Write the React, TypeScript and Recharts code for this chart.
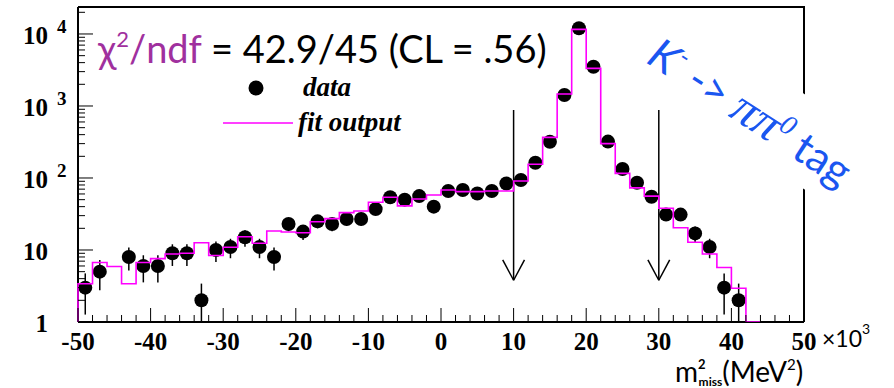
import React from 'react';
import { ComposedChart, Scatter, Line, XAxis, YAxis, ErrorBar, ReferenceLine, Legend } from 'recharts';

// bin centres (x10^3 MeV^2, 2000 MeV^2 wide bins) that hold entries
const dataBins = [-49, -47, -43, -41, -39, -37, -35, -33, -31, -29, -27, -25, -23, -21, -19, -17, -15, -13, -11, -9, -7, -5, -3, -1,
  1, 3, 5, 7, 9, 11, 13, 15, 17, 19, 21, 23, 25, 27, 29, 31, 33, 35, 37, 39, 41];
const dataCounts = [3, 5, 8, 6, 6, 9, 9, 2, 10, 11, 15, 11, 8, 23, 18, 25, 23, 27, 27, 37, 54, 50, 56, 40,
  66, 68, 61, 66, 84, 94, 163, 319, 1420, 12000, 3500, 320, 133, 86, 55, 31, 31, 17, 11, 3, 2];

// fit histogram, one level per bin starting at the -50 edge
const fitStart = -50;
const fitLevels = [3.4, 6.7, 5.9, 3.4, 6.7, 7.6, 8.8, 9.0, 12.6, 8.4, 10.9, 15.3, 12.4, 18.4, 17.8, 17.4, 24.7, 27.3, 33, 34.8,
  46, 54, 41, 51, 58, 68, 64.6, 64.6, 66, 66, 90.7, 155, 366, 1470, 11600, 3330, 300, 116, 73, 56, 38, 20.4, 12.8, 8.8, 5.7, 2.94, 1];
const binWidth = 2;

// selection cuts marked with arrows
const cutPositions = [10, 30];
const arrowTop = 880;
const arrowTip = 3.8;
const arrowHeadBase = 7.3;
const arrowHeadHalf = 1.5;

const xMajorTicks = [-50, -40, -30, -20, -10, 0, 10, 20, 30, 40, 50];
const yDecades = [1, 10, 100, 1000, 10000];
const Y_MIN = 1;
const Y_MAX = 23700;

const xTicks: number[] = [];
for (let v = xMajorTicks[0]; v <= xMajorTicks[xMajorTicks.length - 1]; v += 2) xTicks.push(v);
const yTicks: number[] = [];
yDecades.forEach((d) => {
  for (let m = 1; m <= 9; m++) if (d * m <= Y_MAX) yTicks.push(d * m);
});

const points = dataBins.map((x, i) => {
  const n = dataCounts[i];
  const e = Math.sqrt(n);
  return { x, y: n, err: [Math.min(e, n - Y_MIN), e] };
});

const fitLine = [{ x: fitStart, y: Y_MIN }];
fitLevels.forEach((v, i) => fitLine.push({ x: fitStart + i * binWidth, y: v }));
fitLine.push({ x: fitStart + fitLevels.length * binWidth, y: fitLevels[fitLevels.length - 1] });

const SERIF = "'Liberation Serif', 'Times New Roman', serif";
const SANS = "Lato, 'Open Sans', sans-serif";
const MAGENTA = '#ff00ff';

// plot frame in pixels (matches the chart margins below)
const PLOT = { left: 78, top: 7, right: 804, bottom: 322 };

const XTick = (props: any) => {
  const { x, y, payload } = props;
  const major = payload.value % 10 === 0;
  return (
    <g>
      <line x1={x} x2={x} y1={y} y2={y - (major ? 14 : 7)} stroke="#000" strokeWidth={1} />
      {major && (
        <text x={x} y={y + 28} textAnchor="middle" fontFamily={SERIF} fontWeight="bold" fontSize={25} fill="#000">
          {payload.value}
        </text>
      )}
    </g>
  );
};

const YTick = (props: any) => {
  const { x, y, payload } = props;
  const v = payload.value;
  const lg = Math.log10(v);
  const exp = Math.round(lg);
  const major = Math.abs(lg - exp) < 1e-6;
  return (
    <g>
      <line x1={x} x2={x + (major ? 15 : 7)} y1={y} y2={y} stroke="#000" strokeWidth={1} />
      {major && (
        <text x={x - 30} y={y + 10} textAnchor="end" fontFamily={SERIF} fontWeight="bold" fontSize={25} fill="#000">
          {exp <= 1 ? String(v) : '10'}
        </text>
      )}
      {major && exp >= 2 && (
        <text x={x - 21} y={y - 1} fontFamily={SERIF} fontWeight="bold" fontSize={19} fill="#000">
          {exp}
        </text>
      )}
    </g>
  );
};

const Dot = (props: any) => <circle cx={props.cx} cy={props.cy} r={7} fill="#000" />;

const LegendBox = () => (
  <svg width={220} height={80} style={{ display: 'block' }}>
    <circle cx={41} cy={18} r={7.5} fill="#000" />
    <text x={88} y={26} fontFamily={SERIF} fontWeight="bold" fontStyle="italic" fontSize={27} fill="#000">data</text>
    <line x1={8} x2={78} y1={53} y2={53} stroke={MAGENTA} strokeWidth={1.6} />
    <text x={83} y={61} fontFamily={SERIF} fontWeight="bold" fontStyle="italic" fontSize={27} fill="#000">fit output</text>
  </svg>
);

export default function App() {
  return (
    <div style={{ position: 'relative', width: 894, height: 388, background: '#fff' }}>
      <style>{'body{margin:0}'}</style>
      <ComposedChart width={894} height={388} margin={{ top: 7, right: 90, bottom: 26, left: 18 }}>
        <XAxis
          dataKey="x"
          type="number"
          domain={[xMajorTicks[0], xMajorTicks[xMajorTicks.length - 1]]}
          ticks={xTicks}
          interval={0}
          tick={<XTick />}
          tickLine={false}
          tickSize={0}
          tickMargin={0}
          height={40}
          axisLine={{ stroke: '#000', strokeWidth: 2 }}
        />
        <YAxis
          dataKey="y"
          type="number"
          scale="log"
          domain={[Y_MIN, Y_MAX]}
          allowDataOverflow
          ticks={yTicks}
          interval={0}
          tick={<YTick />}
          tickLine={false}
          tickSize={0}
          tickMargin={0}
          width={60}
          axisLine={{ stroke: '#000', strokeWidth: 2 }}
        />
        <Legend layout="horizontal" verticalAlign="middle" align="center" content={<LegendBox />}
          wrapperStyle={{ left: 215, top: 70, bottom: 'auto', width: 220, height: 80 }} />
        <Scatter data={points} shape={<Dot />} isAnimationActive={false}>
          <ErrorBar dataKey="err" direction="y" width={0} stroke="#000" strokeWidth={1.5} />
        </Scatter>
        <Line data={fitLine} dataKey="y" type="stepAfter" stroke={MAGENTA} strokeWidth={1.6} dot={false}
          isAnimationActive={false} zIndex={700} />
        {cutPositions.map((c) => (
          <ReferenceLine key={`s${c}`} segment={[{ x: c, y: arrowTop }, { x: c, y: arrowTip }]} stroke="#000" strokeWidth={1.5} />
        ))}
        {cutPositions.map((c) => (
          <ReferenceLine key={`l${c}`} segment={[{ x: c - arrowHeadHalf, y: arrowHeadBase }, { x: c, y: arrowTip }]} stroke="#000" strokeWidth={1.5} />
        ))}
        {cutPositions.map((c) => (
          <ReferenceLine key={`r${c}`} segment={[{ x: c + arrowHeadHalf, y: arrowHeadBase }, { x: c, y: arrowTip }]} stroke="#000" strokeWidth={1.5} />
        ))}
      </ComposedChart>
      <svg width={894} height={388} style={{ position: 'absolute', left: 0, top: 0, pointerEvents: 'none' }}>
        {/* top and right sides of the frame */}
        <polyline points={`${PLOT.left},${PLOT.top} ${PLOT.right},${PLOT.top} ${PLOT.right},${PLOT.bottom}`}
          fill="none" stroke="#000" strokeWidth={2} />
        <text x={98} y={63} fontFamily={SANS} fontSize={38} fill="#000">
          <tspan fill="#a0309e">χ</tspan>
          <tspan fill="#a0309e" fontSize={22} dy={-16}>2</tspan>
          <tspan fill="#a0309e" dy={16}>/ndf</tspan>
          <tspan> = 42.9/45 (CL = .56)</tspan>
        </text>
        <g transform="translate(645,62) rotate(33)">
          <rect x={-6} y={-60} width={285} height={80} fill="#fff" />
          <text x={0} y={0} fontFamily={SANS} fontSize={43} fill="#1a56f0">
            <tspan fontStyle="italic">K</tspan>
            <tspan fontSize={24} dy={-18}>-</tspan>
            <tspan dy={18}> -&gt; </tspan>
            <tspan fontFamily={SERIF} fontStyle="italic" fontSize={49}>ππ</tspan>
            <tspan fontFamily={SERIF} fontStyle="italic" fontSize={28} dy={-16}>0</tspan>
            <tspan dy={16}> tag</tspan>
          </text>
        </g>
        <text x={822} y={347} fontFamily={SANS} fontSize={23} fill="#000">
          ×10<tspan fontSize={14} dy={-13}>3</tspan>
        </text>
        <text x={675} y={382} fontFamily={SANS} fontSize={28} fill="#000">
          m<tspan fontWeight="bold" fontSize={13} dy={-13}>2</tspan>
          <tspan fontWeight="bold" fontSize={12} dy={17} dx={-7}>miss</tspan>
          <tspan dy={-4}>(MeV</tspan>
          <tspan fontSize={15} dy={-12}>2</tspan>
          <tspan dy={12}>)</tspan>
        </text>
      </svg>
    </div>
  );
}
